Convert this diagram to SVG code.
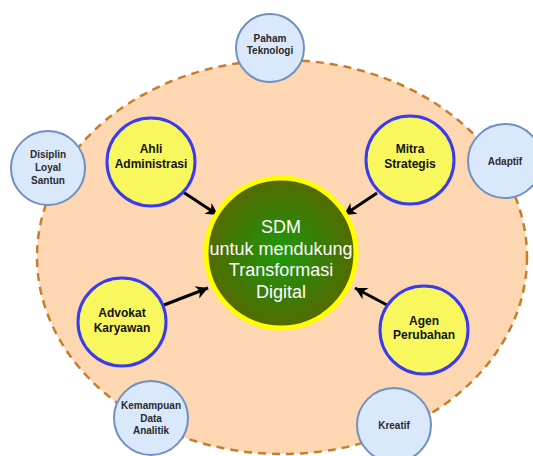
<svg xmlns="http://www.w3.org/2000/svg" width="533" height="456" viewBox="0 0 533 456">
  <defs>
    <radialGradient id="coreFill" cx="50%" cy="50%" r="50%">
      <stop offset="0%" stop-color="#1f9a0c"/>
      <stop offset="60%" stop-color="#3c7a06"/>
      <stop offset="100%" stop-color="#566a00"/>
    </radialGradient>
    <marker id="head" markerWidth="14" markerHeight="14" refX="0" refY="0" orient="auto" markerUnits="userSpaceOnUse" viewBox="-13 -7 14 14">
      <path d="M0,0 L-12,-6.5 L-8.5,0 L-12,6.5 Z" fill="#000"/>
    </marker>
    <style>
      .role circle { fill: #f8f85e; stroke: #3a3aee; stroke-width: 3; }
      .role text { font-family: "Liberation Sans", Arial, sans-serif; font-size: 12px; font-weight: bold; fill: #111; text-anchor: middle; }
      .trait circle { fill: #dae8fc; stroke: #7090bf; stroke-width: 2; }
      .trait text { font-family: "Liberation Sans", Arial, sans-serif; font-size: 10px; font-weight: bold; fill: #2a2a2a; text-anchor: middle; }
      .core text { font-family: "Liberation Sans", Arial, sans-serif; font-size: 18px; fill: #ffffff; text-anchor: middle; }
      .link { stroke: #000; stroke-width: 3; fill: none; marker-end: url(#head); }
    </style>
  </defs>

  <rect width="533" height="456" fill="#ffffff"/>

  <!-- outer dashed area -->
  <ellipse id="area" cx="282" cy="257" rx="245" ry="197" fill="#fdd7b2" stroke="#c57f2c" stroke-width="2.5" stroke-dasharray="8 6"/>

  <!-- connectors -->
  <g id="connectors">
    <line class="link" x1="183" y1="192" x2="218" y2="215"/>
    <line class="link" x1="377" y1="193" x2="344" y2="215"/>
    <line class="link" x1="164" y1="305" x2="208" y2="288"/>
    <line class="link" x1="387" y1="305" x2="355" y2="288"/>
  </g>

  <!-- centre -->
  <g id="core" class="core">
    <circle cx="281" cy="253" r="75" fill="url(#coreFill)" stroke="#ffff00" stroke-width="5"/>
    <text x="281" y="233">SDM</text>
    <text x="281" y="255">untuk mendukung</text>
    <text x="281" y="276">Transformasi</text>
    <text x="281" y="298">Digital</text>
  </g>

  <!-- roles -->
  <g id="ahli-administrasi" class="role">
    <circle cx="151" cy="162" r="44"/>
    <text x="151" y="153">Ahli</text>
    <text x="151" y="168">Administrasi</text>
  </g>
  <g id="mitra-strategis" class="role">
    <circle cx="410" cy="160" r="44"/>
    <text x="410" y="153">Mitra</text>
    <text x="410" y="168">Strategis</text>
  </g>
  <g id="advokat-karyawan" class="role">
    <circle cx="122" cy="322" r="44"/>
    <text x="122" y="317">Advokat</text>
    <text x="122" y="332">Karyawan</text>
  </g>
  <g id="agen-perubahan" class="role">
    <circle cx="424" cy="330" r="44"/>
    <text x="424" y="325">Agen</text>
    <text x="424" y="339">Perubahan</text>
  </g>

  <!-- traits -->
  <g id="paham-teknologi" class="trait">
    <circle cx="270" cy="48" r="34"/>
    <text x="270" y="42">Paham</text>
    <text x="270" y="54">Teknologi</text>
  </g>
  <g id="disiplin" class="trait">
    <circle cx="48" cy="168" r="37"/>
    <text x="48" y="158">Disiplin</text>
    <text x="48" y="171">Loyal</text>
    <text x="48" y="184">Santun</text>
  </g>
  <g id="adaptif" class="trait">
    <circle cx="505" cy="161" r="37"/>
    <text x="505" y="165">Adaptif</text>
  </g>
  <g id="kemampuan-data" class="trait">
    <circle cx="151" cy="418" r="37"/>
    <text x="151" y="409">Kemampuan</text>
    <text x="151" y="422">Data</text>
    <text x="151" y="434">Analitik</text>
  </g>
  <g id="kreatif" class="trait">
    <circle cx="394" cy="425" r="37"/>
    <text x="394" y="429">Kreatif</text>
  </g>
</svg>
